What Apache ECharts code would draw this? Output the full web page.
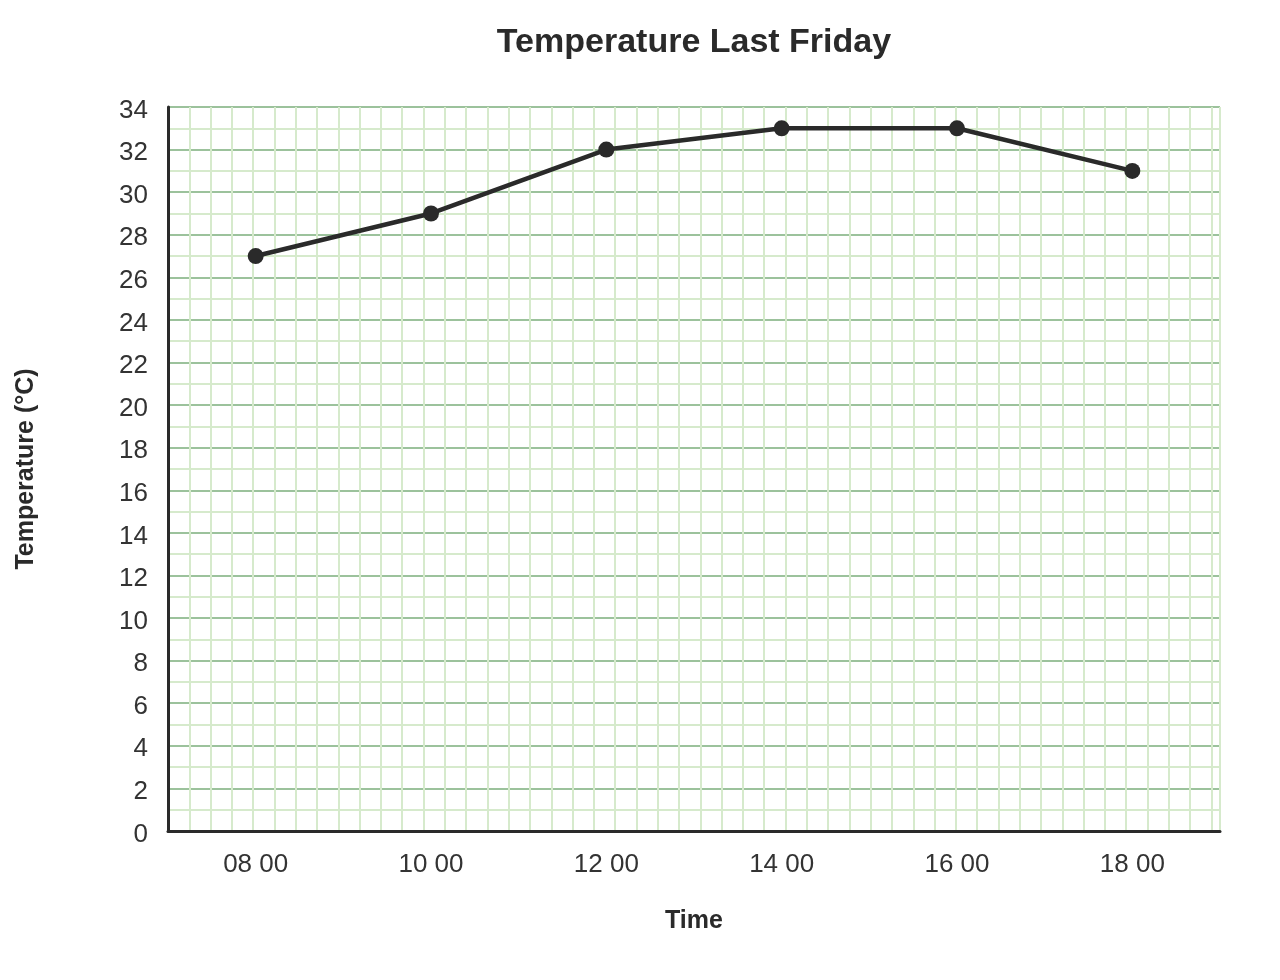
<!DOCTYPE html>
<html><head><meta charset="utf-8">
<script src="https://cdn.jsdelivr.net/npm/echarts@6/dist/echarts.min.js"></script>
<style>html,body{margin:0;padding:0;background:#fff}#c{width:1280px;height:980px}</style>
</head><body><div id="c"></div>
<script>
var times = [8, 10, 12, 14, 16, 18];
var timeLabels = ['08 00', '10 00', '12 00', '14 00', '16 00', '18 00'];
var temps = [27, 29, 32, 33, 33, 31];

var G = {left: 168, right: 60, top: 107, bottom: 149};
var W = 1280 - G.left - G.right, H = 980 - G.top - G.bottom;
var gridCols = W / (H / 34);

var chart = echarts.init(document.getElementById('c'));
var font = '"Liberation Sans", Arial, sans-serif';
chart.setOption({
  animation: false,
  title: {text: 'Temperature Last Friday', left: 689, textAlign: 'center', top: 21,
    textStyle: {fontFamily: font, fontSize: 34, fontWeight: 'bold', color: '#2a2a2a'}},
  grid: {left: G.left, right: G.right, top: G.top, bottom: G.bottom},
  xAxis: [{
    type: 'value', min: 7, max: 19, interval: 1,
    name: 'Time', nameLocation: 'middle', nameGap: 78,
    nameTextStyle: {fontFamily: font, fontSize: 25, fontWeight: 'bold', color: '#2a2a2a'},
    axisLine: {show: true, onZero: false, lineStyle: {color: '#2a2a2a', width: 3}},
    axisTick: {show: false},
    splitLine: {show: false},
    axisLabel: {fontFamily: font, fontSize: 26, color: '#333', margin: 21,
      formatter: function (v) { var i = times.indexOf(v); return i >= 0 ? timeLabels[i] : ''; }}
  }, {
    type: 'value', min: 0, max: gridCols, interval: 1, position: 'top',
    axisLine: {show: false}, axisTick: {show: false}, axisLabel: {show: false},
    splitLine: {show: true, lineStyle: {color: '#d6eacc', width: 2}}
  }],
  yAxis: {
    type: 'value', min: 0, max: 34, interval: 2,
    name: 'Temperature (°C)', nameLocation: 'middle', nameGap: 129, nameRotate: 90,
    nameTextStyle: {fontFamily: font, fontSize: 25, fontWeight: 'bold', color: '#2a2a2a'},
    axisLine: {show: true, lineStyle: {color: '#2a2a2a', width: 3}},
    axisTick: {show: false},
    axisLabel: {fontFamily: font, fontSize: 26, color: '#333', margin: 20,
      formatter: function (v) { return '{a|' + v + '}'; },
      rich: {a: {fontFamily: font, fontSize: 26, color: '#333', padding: [7, 0, 0, 0]}}},
    splitLine: {show: true, lineStyle: {color: '#9cc29c', width: 2}},
    minorTick: {show: false, splitNumber: 2},
    minorSplitLine: {show: true, lineStyle: {color: '#d6eacc', width: 2}}
  },
  series: [{
    type: 'line', xAxisIndex: 0,
    data: times.map(function (t, i) { return [t, temps[i]]; }),
    lineStyle: {color: '#2a2a2a', width: 4.5},
    itemStyle: {color: '#2a2a2a'},
    symbol: 'circle', symbolSize: 16, z: 10
  }]
});
</script></body></html>
